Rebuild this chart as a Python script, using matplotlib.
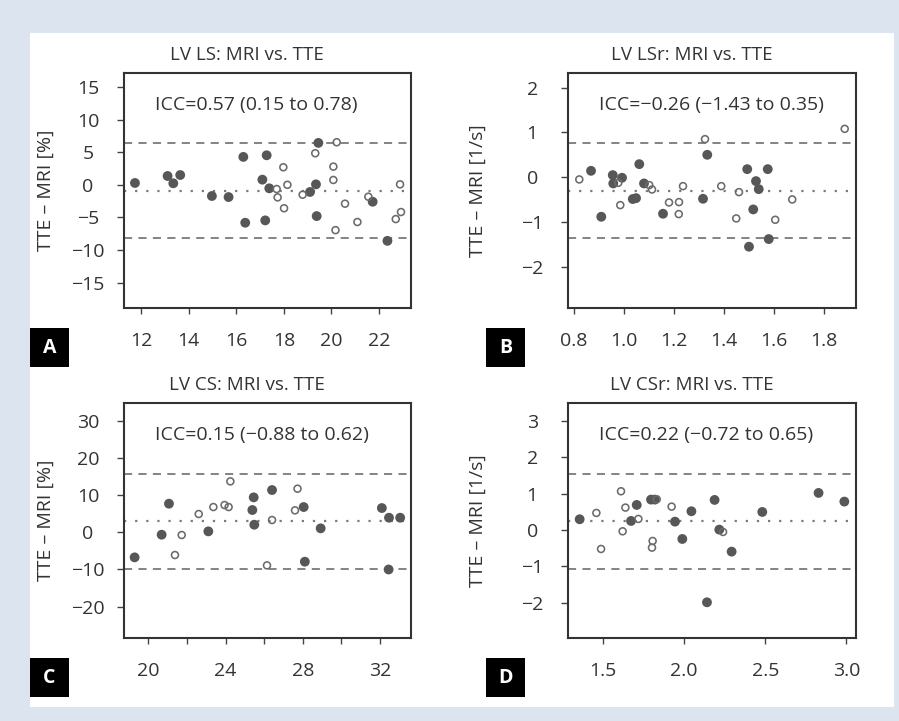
import matplotlib.pyplot as plt
from matplotlib.patches import Rectangle

plt.rcParams['font.family'] = ['Open Sans', 'DejaVu Sans']

# Panel A: LV LS
a_title = 'LV LS: MRI vs. TTE'
a_icc = 'ICC=0.57 (0.15 to 0.78)'
a_ylabel = 'TTE – MRI [%]'
a_fill_x = [11.75, 13.12, 13.36, 13.65, 14.98, 15.68, 16.30, 16.38, 17.28, 17.10,
            17.22, 17.39, 19.45, 19.35, 19.10, 19.38, 21.73, 22.35]
a_fill_y = [0.28, 1.35, 0.23, 1.5, -1.72, -1.88, 4.28, -5.82, 4.53, 0.79,
            -5.46, -0.54, 6.43, 0.07, -1.1, -4.8, -2.6, -8.6]
a_open_x = [17.70, 17.74, 17.98, 18.15, 18.01, 18.79, 19.32, 20.22, 20.08, 20.08,
            20.17, 20.57, 21.09, 21.55, 22.88, 22.92, 22.70]
a_open_y = [-0.65, -1.93, 2.69, 0.0, -3.6, -1.52, 4.84, 6.53, 2.79, 0.74,
            -6.96, -2.9, -5.71, -1.83, 0.07, -4.18, -5.26]
a_lines = [6.4, -0.9, -8.2]  # upper limit, mean, lower limit
a_xticks = [12, 14, 16, 18, 20, 22]
a_xlabels = ['12', '14', '16', '18', '20', '22']
a_yticks = [15, 10, 5, 0, -5, -10, -15]
a_xlim = (11.29, 23.34)
a_ylim = (-18.95, 17.2)

# Panel B: LV LSr
b_title = 'LV LSr: MRI vs. TTE'
b_icc = 'ICC=\u22120.26 (\u22121.43 to 0.35)'
b_ylabel = 'TTE – MRI [1/s]'
b_fill_x = [0.868, 0.909, 0.955, 0.957, 0.992, 1.035, 1.048, 1.061, 1.08, 1.156,
            1.316, 1.333, 1.493, 1.528, 1.539, 1.517, 1.50, 1.575, 1.579]
b_fill_y = [0.148, -0.874, 0.052, -0.133, -0.007, -0.48, -0.46, 0.296, -0.133, -0.807,
            -0.474, 0.504, 0.185, -0.081, -0.26, -0.711, -1.54, 0.185, -1.37]
b_open_x = [0.821, 0.977, 0.985, 1.101, 1.112, 1.18, 1.22, 1.219, 1.236, 1.324,
            1.389, 1.46, 1.449, 1.605, 1.673, 1.883]
b_open_y = [-0.044, -0.119, -0.615, -0.17, -0.267, -0.556, -0.548, -0.815, -0.193, 0.852,
            -0.193, -0.326, -0.911, -0.941, -0.489, 1.081]
b_lines = [0.756, -0.296, -1.348]
b_xticks = [0.8, 1.0, 1.2, 1.4, 1.6, 1.8]
b_xlabels = ['0.8', '1.0', '1.2', '1.4', '1.6', '1.8']
b_yticks = [2, 1, 0, -1, -2]
b_xlim = (0.777, 1.927)
b_ylim = (-2.91, 2.33)

# Panel C: LV CS
c_title = 'LV CS: MRI vs. TTE'
c_icc = 'ICC=0.15 (\u22120.88 to 0.62)'
c_ylabel = 'TTE – MRI [%]'
c_fill_x = [19.29, 20.69, 21.07, 23.11, 25.39, 25.46, 25.49, 26.41, 28.05, 28.11,
            28.93, 32.10, 32.47, 33.05, 32.45]
c_fill_y = [-6.74, -0.65, 7.69, 0.25, 5.99, 9.39, 2.04, 11.36, 6.79, -7.9,
            1.06, 6.52, 3.92, 3.92, -10.0]
c_open_x = [21.38, 21.73, 22.61, 23.37, 23.95, 24.16, 24.25, 26.15, 26.41, 27.6, 27.73]
c_open_y = [-6.11, -0.73, 4.91, 6.79, 7.33, 6.79, 13.69, -8.9, 3.3, 5.9, 11.72]
c_lines = [15.75, 2.94, -9.78]
c_xticks = [20, 22, 24, 26, 28, 30, 32]
c_xlabels = ['20', '', '24', '', '28', '', '32']
c_yticks = [30, 20, 10, 0, -10, -20]
c_xlim = (18.74, 33.61)
c_ylim = (-28.5, 34.84)

# Panel D: LV CSr
d_title = 'LV CSr: MRI vs. TTE'
d_icc = 'ICC=0.22 (\u22120.72 to 0.65)'
d_ylabel = 'TTE – MRI [1/s]'
d_fill_x = [1.356, 1.673, 1.708, 1.796, 1.82, 1.944, 1.989, 2.045, 2.141, 2.188,
            2.217, 2.293, 2.482, 2.829, 2.988]
d_fill_y = [0.294, 0.248, 0.688, 0.835, 0.835, 0.229, -0.248, 0.514, -1.99, 0.826,
            0.009, -0.596, 0.495, 1.018, 0.78]
d_open_x = [1.459, 1.488, 1.611, 1.621, 1.638, 1.718, 1.806, 1.802, 1.831, 1.923, 2.24]
d_open_y = [0.468, -0.523, 1.064, -0.037, 0.615, 0.303, -0.303, -0.486, 0.844, 0.642, -0.055]
d_lines = [1.55, 0.239, -1.064]
d_xticks = [1.5, 2.0, 2.5, 3.0]
d_xlabels = ['1.5', '2.0', '2.5', '3.0']
d_yticks = [3, 2, 1, 0, -1, -2]
d_xlim = (1.286, 3.058)
d_ylim = (-2.98, 3.5)

W, H = 899, 721
fig = plt.figure(figsize=(W / 100, H / 100), dpi=100, facecolor='#dce5ef')
fig.patches.append(Rectangle((30 / W, 1 - 707 / H), 864 / W, 674 / H,
                             transform=fig.transFigure, facecolor='white',
                             edgecolor='none', zorder=-5))


def panel(rect, letter, letter_x, title, icc, ylabel, fx, fy, ox, oy, lines,
          xticks, xlabels, yticks, xlim, ylim, ylab_x):
    left, top, right, bottom = rect
    ax = fig.add_axes([left / W, 1 - bottom / H, (right - left) / W, (bottom - top) / H])
    ax.scatter(fx, fy, s=50, color='#575757', edgecolors='none', zorder=3)
    ax.scatter(ox, oy, s=25, facecolors='none', edgecolors='#6b6b6b', linewidths=1.15, zorder=3)
    ax.axhline(lines[0], color='#7a7a7a', lw=1.3, ls=(0, (4.5, 3.5)))
    ax.axhline(lines[1], color='#7a7a7a', lw=1.6, ls=(0, (1, 4)))
    ax.axhline(lines[2], color='#7a7a7a', lw=1.3, ls=(0, (4.5, 3.5)))
    ax.set_xlim(xlim)
    ax.set_ylim(ylim)
    ax.set_xticks(xticks)
    ax.set_xticklabels(xlabels)
    ax.set_yticks(yticks)
    ax.set_yticklabels([str(v).replace('-', '\u2212') for v in yticks])
    for lab in ax.get_yticklabels():
        lab.set_horizontalalignment('center')
    ax.tick_params(axis='x', length=4, width=1, color='#444444', pad=13,
                   labelsize=14, labelcolor='#333333')
    ax.tick_params(axis='y', length=5, width=1, color='#444444', pad=21,
                   labelsize=14, labelcolor='#333333')
    for sp in ax.spines.values():
        sp.set_color('#333333')
        sp.set_linewidth(1.5)
    ax.set_ylabel(ylabel, fontsize=14, color='#333333')
    ax.yaxis.set_label_coords(ylab_x, 0.5)
    ax.text(0.43, 1 + 18 / (bottom - top), title, transform=ax.transAxes,
            ha='center', va='center', fontsize=13.5, color='#333333')
    ax.text(0.108, 0.862, icc, transform=ax.transAxes, ha='left', va='center',
            fontsize=14, color='#333333')
    # panel letter
    fig.patches.append(Rectangle((letter_x / W, 1 - (bottom + 59) / H), 39 / W, 39 / H,
                                 transform=fig.transFigure, facecolor='black',
                                 edgecolor='none', zorder=1))
    fig.text((letter_x + 19.5) / W, 1 - (bottom + 39.5) / H, letter, color='white',
             fontsize=14, fontweight='bold', ha='center', va='center')
    return ax


panel((124, 72.7, 411, 308.3), 'A', 30, a_title, a_icc, a_ylabel, a_fill_x, a_fill_y,
      a_open_x, a_open_y, a_lines, a_xticks, a_xlabels, a_yticks, a_xlim, a_ylim, -0.24)
panel((568.3, 72.7, 855.7, 308.3), 'B', 486, b_title, b_icc, b_ylabel, b_fill_x, b_fill_y,
      b_open_x, b_open_y, b_lines, b_xticks, b_xlabels, b_yticks, b_xlim, b_ylim, -0.284)
panel((124, 402.7, 411, 638.3), 'C', 30, c_title, c_icc, c_ylabel, c_fill_x, c_fill_y,
      c_open_x, c_open_y, c_lines, c_xticks, c_xlabels, c_yticks, c_xlim, c_ylim, -0.24)
panel((568.3, 402.7, 855.7, 638.3), 'D', 486, d_title, d_icc, d_ylabel, d_fill_x, d_fill_y,
      d_open_x, d_open_y, d_lines, d_xticks, d_xlabels, d_yticks, d_xlim, d_ylim, -0.284)

fig.savefig('out.png', dpi=100, facecolor=fig.get_facecolor())
